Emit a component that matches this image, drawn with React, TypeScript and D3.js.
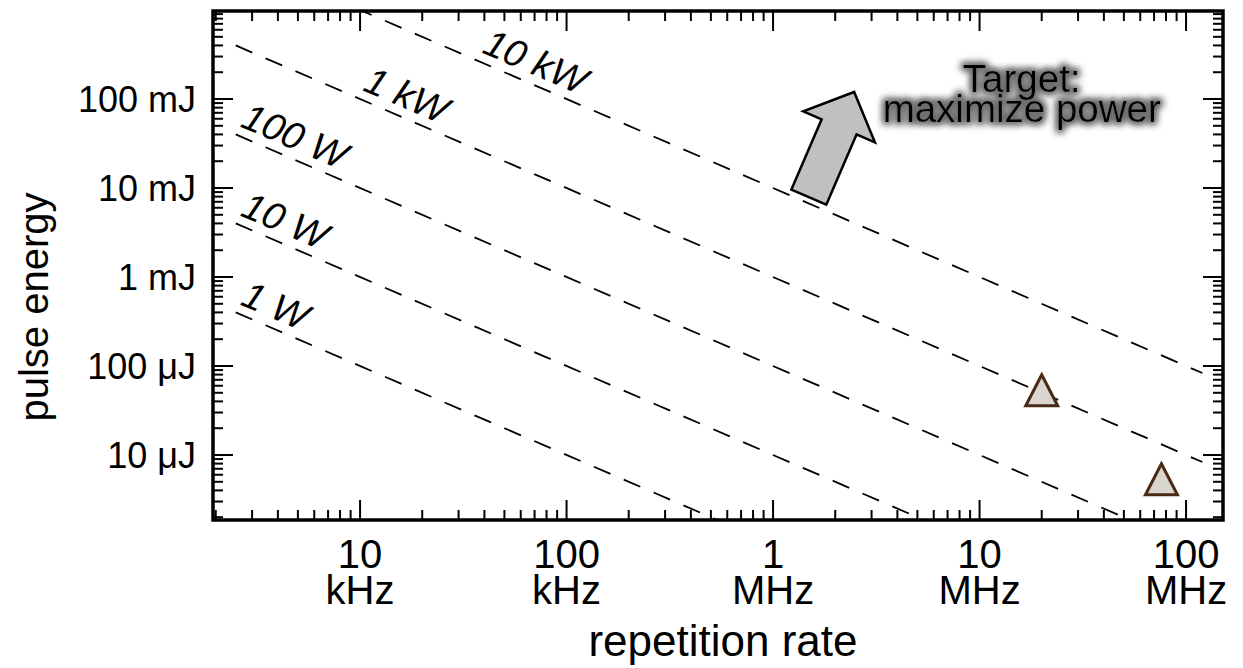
import React from "react";
import * as d3 from "d3";

const W = 1243;
const H = 668;
const PLOT = { left: 213, right: 1223, top: 11, bottom: 520 };

// axis ranges
const xDomain = [1.94e3, 1.51e8];
const yDomain = [1.86e-6, 0.975];

// tick labels
const xTickValues = [1e4, 1e5, 1e6, 1e7, 1e8];
const xTickNumbers = ["10", "100", "1", "10", "100"];
const xTickUnits = ["kHz", "kHz", "MHz", "MHz", "MHz"];
const yTickValues = [1e-1, 1e-2, 1e-3, 1e-4, 1e-5];
const yTickLabels = ["100 mJ", "10 mJ", "1 mJ", "100 μJ", "10 μJ"];

// constant average power lines: E = P / f
const powerLevels = [1, 10, 100, 1000, 10000];
const powerLabels = ["1 W", "10 W", "100 W", "1 kW", "10 kW"];
const powerLabelFreqs = [2.5e3, 2.5e3, 2.5e3, 9.8e3, 3.7e4];
const lineFreqRange = [2.5e3, 1.2e8];

// measured lasers
const pointFreqs = [2.0e7, 7.6e7];
const pointEnergies = [5.0e-5, 5.0e-6];

// "maximize power" arrow, tail -> tip in data units
const arrowTail = [1.49e6, 7.9e-3];
const arrowTip = [2.47e6, 0.12];
const targetText = ["Target:", "maximize power"];
const targetAnchor = [1.6e7, 0.12];

const FONT = "'Liberation Sans', Arial, Helvetica, sans-serif";

const isDecade = (v: number) =>
  Math.abs(Math.log10(v) - Math.round(Math.log10(v))) < 1e-6;

export default function App() {
  const x = d3.scaleLog().domain(xDomain).range([PLOT.left, PLOT.right]);
  const y = d3.scaleLog().domain(yDomain).range([PLOT.bottom, PLOT.top]);

  const xTicks = x.ticks();
  const yTicks = y.ticks();

  // slope of the E = P/f lines in pixels (descending to the right)
  const angle =
    (Math.atan2(y(1e-4) - y(1e-3), x(1e5) - x(1e4)) * 180) / Math.PI;

  const powerPath = (p: number) =>
    d3
      .line<number>()
      .x((f) => x(f))
      .y((f) => y(p / f))(lineFreqRange);

  // block arrow
  const tx = x(arrowTail[0]);
  const ty = y(arrowTail[1]);
  const px = x(arrowTip[0]);
  const py = y(arrowTip[1]);
  const len = Math.hypot(px - tx, py - ty);
  const ux = (px - tx) / len;
  const uy = (py - ty) / len;
  const nx = -uy;
  const ny = ux;
  const shaftW = 19;
  const headW = 39;
  const headL = 38;
  const bx = px - ux * headL;
  const by = py - uy * headL;
  const arrowPts = [
    [tx + nx * shaftW, ty + ny * shaftW],
    [bx + nx * shaftW, by + ny * shaftW],
    [bx + nx * headW, by + ny * headW],
    [px, py],
    [bx - nx * headW, by - ny * headW],
    [bx - nx * shaftW, by - ny * shaftW],
    [tx - nx * shaftW, ty - ny * shaftW],
  ];

  // triangle marker, apex up
  const tri = "M0,-18L16,13L-16,13Z";

  return (
    <svg
      width={W}
      height={H}
      style={{ position: "absolute", left: 0, top: 0, background: "#fff" }}
      fontFamily={FONT}
    >
      <defs>
        <clipPath id="plotClip">
          <rect
            x={PLOT.left}
            y={PLOT.top}
            width={PLOT.right - PLOT.left}
            height={PLOT.bottom - PLOT.top}
          />
        </clipPath>
        <filter id="glow" x="-20%" y="-50%" width="140%" height="200%">
          <feMorphology in="SourceAlpha" operator="dilate" radius="2" result="fat" />
          <feGaussianBlur in="fat" stdDeviation="3.5" result="blur" />
          <feFlood floodColor="#6e6e6e" result="col" />
          <feComposite in="col" in2="blur" operator="in" result="halo" />
          <feMerge>
            <feMergeNode in="halo" />
            <feMergeNode in="halo" />
            <feMergeNode in="SourceGraphic" />
          </feMerge>
        </filter>
      </defs>

      {/* power lines */}
      <g clipPath="url(#plotClip)">
        {powerLevels.map((p) => (
          <path
            key={p}
            d={powerPath(p) || ""}
            fill="none"
            stroke="#000"
            strokeWidth={1.8}
            strokeDasharray="18,14.5"
          />
        ))}
      </g>

      {/* power labels */}
      {powerLevels.map((p, i) => {
        const f = powerLabelFreqs[i];
        return (
          <text
            key={p}
            transform={`translate(${x(f)},${y(p / f)}) rotate(${angle})`}
            dy={-9}
            fontSize={38}
            fontStyle="italic"
            fill="#000"
          >
            {powerLabels[i]}
          </text>
        );
      })}

      {/* arrow */}
      <polygon
        points={arrowPts.map((d) => d.join(",")).join(" ")}
        fill="#c0c0c0"
        stroke="#000"
        strokeWidth={2.5}
        strokeLinejoin="miter"
      />

      {/* target text with glow */}
      <g filter="url(#glow)">
        {targetText.map((t, i) => (
          <text
            key={t}
            x={x(targetAnchor[0])}
            y={y(targetAnchor[1]) + i * 30}
            textAnchor="middle"
            fontSize={38.5}
            fill="#000"
          >
            {t}
          </text>
        ))}
      </g>

      {/* measured points */}
      {pointFreqs.map((f, i) => (
        <path
          key={f}
          d={tri}
          transform={`translate(${x(f)},${y(pointEnergies[i])})`}
          fill="#d9d5d1"
          stroke="#4a2a14"
          strokeWidth={3}
          strokeLinejoin="miter"
        />
      ))}

      {/* ticks */}
      <g stroke="#000" strokeWidth={2}>
        {xTicks.map((v, i) => {
          const L = isDecade(v) ? 20 : 10;
          const xx = x(v);
          return (
            <g key={`xt${i}`}>
              <line x1={xx} x2={xx} y1={PLOT.bottom} y2={PLOT.bottom - L} />
              <line x1={xx} x2={xx} y1={PLOT.top} y2={PLOT.top + L} />
            </g>
          );
        })}
        {yTicks.map((v, i) => {
          const L = isDecade(v) ? 20 : 10;
          const yy = y(v);
          return (
            <g key={`yt${i}`}>
              <line x1={PLOT.left} x2={PLOT.left + L} y1={yy} y2={yy} />
              <line x1={PLOT.right} x2={PLOT.right - L} y1={yy} y2={yy} />
            </g>
          );
        })}
      </g>

      {/* frame */}
      <rect
        x={PLOT.left}
        y={PLOT.top}
        width={PLOT.right - PLOT.left}
        height={PLOT.bottom - PLOT.top}
        fill="none"
        stroke="#000"
        strokeWidth={3.5}
      />

      {/* tick labels */}
      {xTickValues.map((v, i) => (
        <g key={`xl${i}`} fontSize={40} textAnchor="middle" fill="#000">
          <text x={x(v)} y={PLOT.bottom + 48}>
            {xTickNumbers[i]}
          </text>
          <text x={x(v)} y={PLOT.bottom + 84}>
            {xTickUnits[i]}
          </text>
        </g>
      ))}
      {yTickValues.map((v, i) => (
        <text
          key={`yl${i}`}
          x={PLOT.left - 17}
          y={y(v) + 13}
          fontSize={36}
          textAnchor="end"
          fill="#000"
        >
          {yTickLabels[i]}
        </text>
      ))}

      {/* axis titles */}
      <text x={723} y={PLOT.bottom + 136} fontSize={44} textAnchor="middle">
        repetition rate
      </text>
      <text
        transform={`translate(48,307) rotate(-90)`}
        fontSize={40}
        textAnchor="middle"
      >
        pulse energy
      </text>
    </svg>
  );
}
